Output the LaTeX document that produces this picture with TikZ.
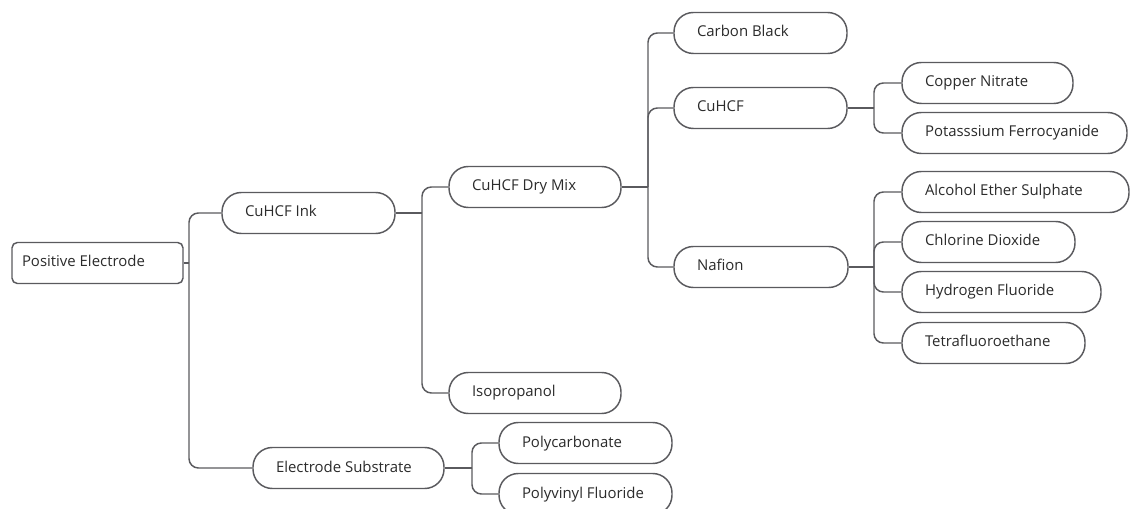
\documentclass[tikz,border=0pt]{standalone}
\usepackage{fontspec}
\setmainfont{Open Sans}
\definecolor{linec}{HTML}{5A5A5E}
\definecolor{txtc}{HTML}{2B2B2B}
\newcommand\tw[2]{\makebox[#1][l]{#2}}
\begin{document}
\begin{tikzpicture}[x=0.75pt,y=-0.75pt,
  box/.style={draw=linec, line width=1.1pt, fill=white, minimum height=30.75pt,
    inner ysep=0pt, inner xsep=17.25pt, text height=8.5pt, text depth=2.5pt,
    font=\fontsize{11.2}{13}\selectfont, text=txtc, rounded corners=14.5pt},
  root/.style={box, rounded corners=4pt, inner xsep=7.5pt},
  link/.style={draw=linec, line width=1.1pt, rounded corners=7pt}]
\useasboundingbox (0,0) rectangle (1131,509);

\node[root] (pe) at (97.5,263) {\tw{113.25pt}{Positive Electrode}};
\node[box] (ink) at (308.5,213) {\tw{95.25pt}{CuHCF Ink}};
\node[box] (sub) at (348.5,468) {\tw{108.75pt}{Electrode Substrate}};
\node[box] (dry) at (535,187) {\tw{94.5pt}{CuHCF Dry Mix}};
\node[box] (iso) at (535,393) {\tw{94.5pt}{Isopropanol}};
\node[box] (pc) at (585.5,443) {\tw{95.25pt}{Polycarbonate}};
\node[box] (pvf) at (585.5,494) {\tw{95.25pt}{Polyvinyl Fluoride}};
\node[box] (carbon) at (760.5,33) {\tw{95.25pt}{Carbon Black}};
\node[box] (cuhcf) at (760.5,108) {\tw{95.25pt}{CuHCF}};
\node[box] (nafion) at (761,267) {\tw{96pt}{Nafion}};
\node[box] (cn) at (987.5,83) {\tw{93.75pt}{Copper Nitrate}};
\node[box] (pf) at (1014.5,133) {\tw{134.25pt}{Potasssium Ferrocyanide}};
\node[box] (aes) at (1015.5,192) {\tw{135.75pt}{Alcohol Ether Sulphate}};
\node[box] (cd) at (988.5,242) {\tw{95.25pt}{Chlorine Dioxide}};
\node[box] (hf) at (1001.5,292) {\tw{114.75pt}{Hydrogen Fluoride}};
\node[box] (tfe) at (993.5,343) {\tw{102.75pt}{Tetrafluoroethane}};

\coordinate (jpe) at (189,263);
\coordinate (jink) at (422,213);
\coordinate (jdry) at (648,187);
\coordinate (jcu) at (874,108);
\coordinate (jnaf) at (874,267);
\coordinate (jsub) at (472,468);

\draw[link] (pe.east) -- (jpe);
\draw[link] (jpe) |- (ink.west);
\draw[link] (jpe) |- (sub.west);

\draw[link] (ink.east) -- (jink);
\draw[link] (jink) |- (dry.west);
\draw[link] (jink) |- (iso.west);

\draw[link] (dry.east) -- (jdry);
\draw[link] (jdry) |- (carbon.west);
\draw[link] (jdry) |- (cuhcf.west);
\draw[link] (jdry) |- (nafion.west);

\draw[link] (cuhcf.east) -- (jcu);
\draw[link] (jcu) |- (cn.west);
\draw[link] (jcu) |- (pf.west);

\draw[link] (nafion.east) -- (jnaf);
\draw[link] (jnaf) |- (aes.west);
\draw[link] (jnaf) |- (cd.west);
\draw[link] (jnaf) |- (hf.west);
\draw[link] (jnaf) |- (tfe.west);

\draw[link] (sub.east) -- (jsub);
\draw[link] (jsub) |- (pc.west);
\draw[link] (jsub) |- (pvf.west);
\end{tikzpicture}
\end{document}
